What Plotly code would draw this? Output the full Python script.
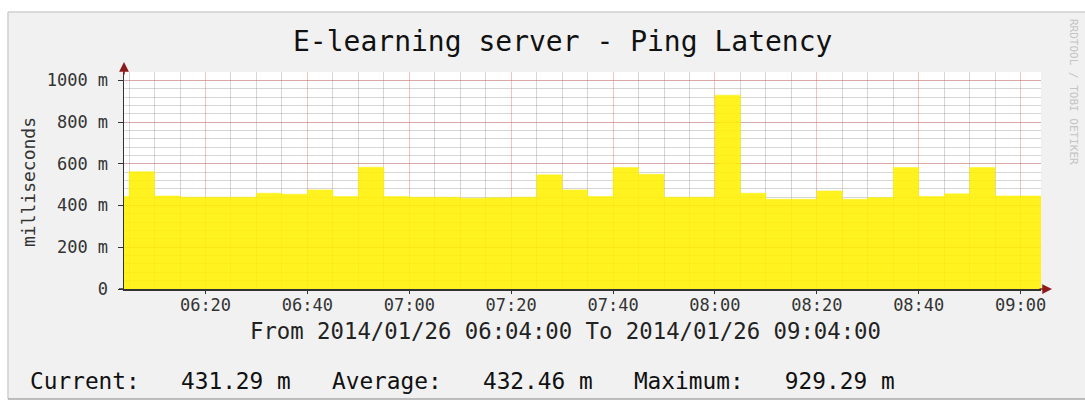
import plotly.graph_objects as go

# ---------------- data ----------------
DATE = "2014-01-26"
bin_start = ["06:00", "06:05", "06:10", "06:15", "06:20", "06:25", "06:30", "06:35", "06:40", "06:45",
             "06:50", "06:55", "07:00", "07:05", "07:10", "07:15", "07:20", "07:25", "07:30", "07:35",
             "07:40", "07:45", "07:50", "07:55", "08:00", "08:05", "08:10", "08:15", "08:20", "08:25",
             "08:30", "08:35", "08:40", "08:45", "08:50", "08:55", "09:00"]
bin_end_last = "09:05"
latency_ms = [443, 562, 446, 440, 440, 440, 459, 454, 475, 443,
              584, 443, 440, 440, 435, 437, 440, 547, 475, 443,
              582, 550, 440, 440, 929, 459, 430, 430, 470, 430,
              438, 582, 443, 456, 582, 446, 446]
x_start, x_end = "06:04", "09:04"
y_tickvals = [0, 200, 400, 600, 800, 1000]
y_ticktext = ["0", "200 m", "400 m", "600 m", "800 m", "1000 m"]
stat_labels = ["Current:", "Average:", "Maximum:"]
stat_values = ["431.29 m", "432.46 m", "929.29 m"]
title_text = "E-learning server - Ping Latency"
y_title = "milliseconds"
range_text = "From 2014/01/26 06:04:00 To 2014/01/26 09:04:00"
watermark = "RRDTOOL / TOBI OETIKER"

# ---------------- layout geometry ----------------
W, H = 1085, 403
L, R, T, B = 124, 1041, 72, 289
def px_x(p):
    return (p - L) / (R - L)
def px_y(p):
    return (B - p) / (B - T)

MONO = "DejaVu Sans Mono"
YELLOW = "rgba(255,240,0,0.88)"

xs = [f"{DATE} {t}:00" for t in bin_start] + [f"{DATE} {bin_end_last}:00"]
ys = latency_ms + [latency_ms[-1]]

fig = go.Figure()
fig.add_trace(go.Scatter(
    x=xs, y=ys, mode="lines", line=dict(shape="hv", width=0.5, color=YELLOW),
    fill="tozeroy", fillcolor=YELLOW, hoverinfo="skip", showlegend=False))

major_grid = "rgba(222,90,90,0.36)"
minor_grid = "rgba(140,140,140,0.36)"

fig.update_layout(
    template="none",
    width=W, height=H,
    margin=dict(l=L, r=W - R, t=T, b=H - B, pad=0, autoexpand=False),
    paper_bgcolor="#F1F1F1",
    plot_bgcolor="#FFFFFF",
    font=dict(family=MONO, color="#222222"),
    showlegend=False,
    xaxis=dict(
        type="date", range=[f"{DATE} {x_start}", f"{DATE} {x_end}"],
        tick0=f"{DATE} 06:00", dtick=20 * 60 * 1000, tickformat="%H:%M",
        showgrid=True, gridcolor=major_grid, gridwidth=1,
        minor=dict(dtick=5 * 60 * 1000, tick0=f"{DATE} 06:00", showgrid=True,
                   gridcolor=minor_grid, gridwidth=1),
        showline=True, linecolor="#333333", linewidth=1.5,
        ticks="outside", ticklen=3, tickcolor="#333333",
        ticklabelstandoff=-3,
        tickfont=dict(family=MONO, size=17, color="#333333"),
        zeroline=False, automargin=False, fixedrange=True,
    ),
    yaxis=dict(
        range=[0, 1040], tickvals=y_tickvals, ticktext=y_ticktext,
        showgrid=True, gridcolor=major_grid, gridwidth=1,
        minor=dict(dtick=40, tick0=0, showgrid=True, gridcolor=minor_grid, gridwidth=1),
        showline=True, linecolor="#333333", linewidth=1.5,
        ticks="outside", ticklen=5, tickcolor="#333333",
        ticklabelstandoff=6,
        tickfont=dict(family=MONO, size=17, color="#333333"),
        zeroline=False, automargin=False, fixedrange=True,
    ),
)

ann = []
ann.append(dict(text=title_text, x=px_x(562), y=px_y(42), xref="paper", yref="paper",
                xanchor="center", yanchor="middle", showarrow=False,
                font=dict(family=MONO, size=28, color="#111111")))
ann.append(dict(text=y_title, x=px_x(28), y=px_y(182), xref="paper", yref="paper",
                xanchor="center", yanchor="middle", showarrow=False, textangle=-90,
                font=dict(family=MONO, size=18, color="#333333")))
ann.append(dict(text=range_text, x=px_x(565), y=px_y(331), xref="paper", yref="paper",
                xanchor="center", yanchor="middle", showarrow=False,
                font=dict(family=MONO, size=22.3, color="#222222")))
gap = "\u00a0" * 3
stats_line = gap.join(f"{lab}{gap}{val}" for lab, val in zip(stat_labels, stat_values))
ann.append(dict(text=stats_line, x=px_x(28), y=px_y(381), xref="paper", yref="paper",
                xanchor="left", yanchor="middle", showarrow=False,
                font=dict(family=MONO, size=22.8, color="#111111")))
ann.append(dict(text=watermark, x=px_x(1074), y=px_y(92), xref="paper", yref="paper",
                xanchor="center", yanchor="middle", showarrow=False, textangle=90,
                font=dict(family=MONO, size=11, color="#C4C4C4")))
# axis arrows
ann.append(dict(text="", x=px_x(1052), y=0, xref="paper", yref="paper",
                ax=-14, ay=0, axref="pixel", ayref="pixel", showarrow=True,
                arrowhead=2, arrowsize=1.3, arrowwidth=1.5, arrowcolor="#8E1B1B"))
ann.append(dict(text="", x=0, y=px_y(62), xref="paper", yref="paper",
                ax=0, ay=14, axref="pixel", ayref="pixel", showarrow=True,
                arrowhead=2, arrowsize=1.3, arrowwidth=1.5, arrowcolor="#8E1B1B"))
fig.update_layout(annotations=ann)

# outer frame of the image
shapes = [
    dict(type="rect", xref="paper", yref="paper", x0=px_x(0), x1=px_x(8), y0=px_y(H), y1=px_y(0),
         fillcolor="#FFFFFF", line=dict(width=0)),
    dict(type="rect", xref="paper", yref="paper", x0=px_x(0), x1=px_x(W), y0=px_y(12), y1=px_y(0),
         fillcolor="#FFFFFF", line=dict(width=0)),
    dict(type="rect", xref="paper", yref="paper", x0=px_x(0), x1=px_x(W), y0=px_y(H), y1=px_y(399),
         fillcolor="#FFFFFF", line=dict(width=0)),
    dict(type="line", xref="paper", yref="paper", x0=px_x(8), x1=px_x(8), y0=px_y(399), y1=px_y(12),
         line=dict(color="#CFCFCF", width=1.5)),
    dict(type="line", xref="paper", yref="paper", x0=px_x(8), x1=px_x(W), y0=px_y(12), y1=px_y(12),
         line=dict(color="#CFCFCF", width=1.5)),
    dict(type="line", xref="paper", yref="paper", x0=px_x(8), x1=px_x(W), y0=px_y(399), y1=px_y(399),
         line=dict(color="#A8A8A8", width=1.5)),
    # short axis extension past the origin
    dict(type="line", xref="paper", yref="paper", x0=px_x(119), x1=0, y0=0, y1=0,
         line=dict(color="#333333", width=1.5)),
]
fig.update_layout(shapes=shapes)

fig.write_html("out.html",
               config={"displayModeBar": False, "staticPlot": True},
               post_script="document.body.style.margin='0';document.body.style.overflow='hidden';")
